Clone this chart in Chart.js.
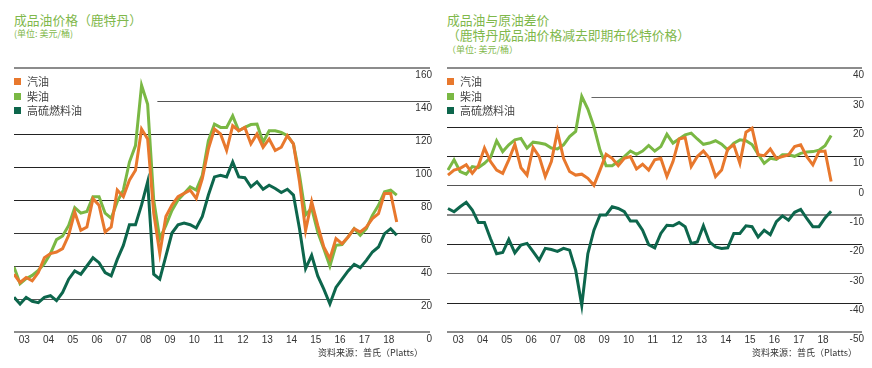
<!DOCTYPE html>
<html>
<head>
<meta charset="utf-8">
<script src="https://cdn.jsdelivr.net/npm/chart.js@4.4.1/dist/chart.umd.min.js"></script>
<style>
  html, body { margin: 0; padding: 0; background: #fff; }
  #page { position: relative; width: 872px; height: 368px; overflow: hidden; font-family: 'Noto Sans CJK SC', sans-serif; }
  .box { position: absolute; top: 0; }
  .title { position: absolute; color: #7fb84b; font-size: 12.8px; line-height: 15px; white-space: nowrap; }
  .unit { position: absolute; color: #7fb84b; font-size: 9px; line-height: 11px; white-space: nowrap; }
  .legend { position: absolute; top: 74px; font-size: 11px; color: #444; line-height: 14.5px; z-index: 2; }
  .legend div { position: relative; padding-left: 13px; white-space: nowrap; }
  .legend span { position: absolute; left: 0; top: 4px; width: 7px; height: 7px; }
  .source { position: absolute; top: 347px; font-size: 9px; line-height: 12px; color: #333; white-space: nowrap; }
</style>
</head>
<body>
<div id="page">
  <div class="title" style="left:14px;top:12px">成品油价格（鹿特丹）</div>
  <div class="unit" style="left:14px;top:28px">(单位: 美元/桶)</div>
  <div class="legend" style="left:14px">
    <div><span style="background:#e8782d"></span>汽油</div>
    <div><span style="background:#7ab844"></span>柴油</div>
    <div><span style="background:#0d664c"></span>高硫燃料油</div>
  </div>
  <canvas id="priceChart" class="box" style="left:0" width="440" height="368"></canvas>
  <div class="source" style="right:449px">资料来源：普氏（Platts）</div>

  <div class="title" style="left:447px;top:12px">成品油与原油差价</div>
  <div class="title" style="left:447px;top:27px">（鹿特丹成品油价格减去即期布伦特价格）</div>
  <div class="unit" style="left:447px;top:44px">（单位: 美元/桶）</div>
  <div class="legend" style="left:447px">
    <div><span style="background:#e8782d"></span>汽油</div>
    <div><span style="background:#7ab844"></span>柴油</div>
    <div><span style="background:#0d664c"></span>高硫燃料油</div>
  </div>
  <canvas id="crackChart" class="box" style="left:440px" width="432" height="368"></canvas>
  <div class="source" style="right:15px">资料来源：普氏（Platts）</div>
</div>

<script>
// quarters 2003Q1 .. 2018Q4 as decimal years
const quarters = [];
for (let i = 0; i < 64; i++) quarters.push(2003 + i / 4);
const yearLabels = ['03', '04', '05', '06', '07', '08', '09', '10', '11', '12', '13', '14', '15', '16', '17', '18'];

// left chart: product prices, USD/bbl
const gasolinePrice = [35, 30, 33, 31, 36, 45, 47.5, 48.5, 50.5, 58.6,
  72.7, 61.6, 63.6, 80.8, 76.8, 60.6, 63.6, 86, 82, 92,
  98, 123, 117, 72, 47.5, 70, 77, 82, 84, 86,
  81, 93, 111, 123, 120, 110, 125, 122, 124, 114,
  120, 112, 117, 110, 112, 119, 114, 91, 61.6, 79,
  64.6, 51.5, 44.4, 56.6, 53.5, 57.6, 62.6, 60.6, 63.6, 68.7,
  71.7, 84, 84, 66.7];
const dieselPrice = [39.4, 29.3, 32.3, 34.3, 37.4, 41.4, 47.5, 56, 58.2, 64.6,
  75.4, 72, 73, 82, 82, 72, 69, 79, 86, 103,
  113, 149.5, 138, 80, 56.6, 64.6, 73.7, 80, 84, 88,
  86, 95, 116, 126, 124, 124, 131, 122, 124, 125.7,
  126, 115, 122, 122, 121, 119, 114, 95, 71, 75,
  60.6, 50.5, 40, 52.5, 53, 57.6, 62.6, 58.6, 62.6, 70.7,
  76.8, 85, 86, 83];
const fuelOilPrice = [21, 17, 21, 18.6, 17.8, 21, 22, 19, 24, 32,
  37, 35, 40, 45, 42, 36, 34, 44, 52.5, 65,
  65, 77, 91, 35, 32, 46, 60, 65, 66, 65,
  63, 70, 83, 94, 95, 94, 103, 94, 93.5, 88,
  91, 86.5, 89, 87, 84.5, 86.5, 83, 62.6, 38.4, 46.5,
  34, 26, 17, 27, 32, 37, 41, 39, 43.4, 48.5,
  51.5, 59.6, 62.6, 58.6];

// right chart: cracks vs dated Brent, USD/bbl
const gasolineCrack = [3.5, 5.2, 5.8, 7, 4.1, 6.7, 12.7, 8.1, 5.2, 4.1,
  8.7, 14, 6, 3.5, 12.9, 9.8, 3, 8.1, 18.4, 9.2,
  4.7, 3.5, 3.8, 2.4, 0, 5.2, 10.6, 9.2, 6.7, 9.2,
  9.8, 5.6, 7.2, 5.2, 8.7, 9.2, 3, 8.1, 15.8, 16.3,
  6.4, 9.8, 11.7, 9.2, 3, 5.2, 12.4, 13.8, 7.5, 18.1,
  19.5, 10.4, 10.1, 12.4, 9.2, 9.8, 10.4, 13.2, 13.8, 9.8,
  7, 11.5, 11.7, 1.3];
const dieselCrack = [5.2, 8.7, 4.7, 3.8, 6.4, 6, 7.5, 9.5, 15.2, 11.5,
  13.8, 15.5, 16, 12.7, 14.7, 14.4, 14, 12.7, 12.4, 13.8,
  16.6, 18.4, 30.3, 26, 20, 12, 6.7, 6.7, 8.1, 9.8,
  11.7, 10.6, 11.7, 13.6, 11.7, 13.2, 17.4, 14.4, 15.8, 17.2,
  17.8, 15.8, 14, 14.4, 15.2, 14, 12.1, 14.4, 15.5, 15.2,
  13.9, 10.6, 7.5, 9.2, 8.8, 10.4, 10.4, 9.9, 10.9, 11.4,
  11.5, 12, 13.5, 17];
const fuelOilCrack = [-7.9, -9, -7.3, -5.8, -8.4, -12.7, -12.7, -18.2, -23.3, -22.9,
  -18.4, -23, -20.4, -19.8, -22.6, -25.5, -21.5, -21.9, -22.5, -21.5,
  -22.1, -29, -40.9, -23.3, -15.3, -10.1, -10.1, -7.3, -7.9, -9,
  -12.2, -12.2, -15.3, -20.2, -21.3, -16.4, -13.6, -13.8, -12.7, -14.1,
  -19.8, -19.3, -13.8, -19.3, -21, -21.5, -21.3, -16.4, -16.4, -13.8,
  -14.1, -17.6, -15.3, -16.8, -12.4, -10.4, -11.9, -9.2, -8.2, -11.3,
  -14.1, -14.1, -11.1, -8.8];

const priceTicks = [0, 20, 40, 60, 80, 100, 120, 140, 160];
const crackTicks = [-50, -40, -30, -20, -10, 0, 10, 20, 30, 40];

const ORANGE = '#e8782d';
const GREEN = '#7ab844';
const DARK = '#0d664c';

Chart.defaults.font.family = "'Liberation Sans Narrow', 'Liberation Sans', Arial, sans-serif";
Chart.defaults.color = '#333';

// horizontal rules drawn under the lines, some start part way across
const ruleLines = {
  id: 'ruleLines',
  beforeDatasetsDraw(chart, args, opts) {
    const { ctx, chartArea, scales: { x, y } } = chart;
    ctx.save();
    opts.lines.forEach(line => {
      const py = Math.round(y.getPixelForValue(line.value)) + (line.width % 2 ? 0.5 : 0);
      const x0 = line.from ? x.getPixelForValue(line.from) : chartArea.left;
      ctx.strokeStyle = line.color;
      ctx.lineWidth = line.width;
      ctx.beginPath();
      ctx.moveTo(x0, py);
      ctx.lineTo(chartArea.right, py);
      ctx.stroke();
    });
    ctx.restore();
  }
};

function series(values) {
  return values.map((v, i) => ({ x: quarters[i], y: v }));
}

function makeChart(canvasId, sets, yTicks, lines, xMin, xMax, padLeft) {
  return new Chart(document.getElementById(canvasId), {
    type: 'line',
    data: {
      datasets: [
        { label: '汽油', data: series(sets[0]), borderColor: ORANGE },
        { label: '柴油', data: series(sets[1]), borderColor: GREEN },
        { label: '高硫燃料油', data: series(sets[2]), borderColor: DARK }
      ]
    },
    options: {
      responsive: false,
      animation: false,
      events: [],
      layout: { padding: { left: padLeft, right: 10, top: 68, bottom: 16 } },
      elements: {
        point: { radius: 0 },
        line: { tension: 0, borderWidth: 3, fill: false }
      },
      plugins: {
        legend: { display: false },
        tooltip: { enabled: false },
        ruleLines: { lines: lines }
      },
      scales: {
        x: {
          type: 'linear',
          min: xMin,
          max: xMax,
          grid: { display: false, drawTicks: false },
          border: { display: false },
          afterBuildTicks: axis => {
            axis.ticks = yearLabels.map((l, k) => ({ value: 2003 + k + 0.42 }));
          },
          afterFit: axis => { axis.height = 20; },
          ticks: {
            autoSkip: false,
            maxRotation: 0,
            padding: 2,
            font: { size: 10 },
            color: '#333',
            callback: (value, index) => yearLabels[index]
          }
        },
        y: {
          position: 'right',
          min: yTicks[0],
          max: yTicks[yTicks.length - 1],
          grid: { display: false, drawTicks: false },
          border: { display: false },
          afterBuildTicks: axis => {
            axis.ticks = yTicks.map(v => ({ value: v }));
          },
          afterFit: axis => { axis.width = 0; },
          ticks: {
            autoSkip: false,
            mirror: true,
            padding: 2,
            labelOffset: 7.5,
            font: { size: 10 },
            color: '#333',
            callback: value => String(value)
          }
        }
      }
    },
    plugins: [ruleLines]
  });
}

const priceLines = [
  { value: 160, color: '#8c8c8c', width: 2 },
  { value: 140, color: '#555', width: 1, from: 2008.9 },
  { value: 120, color: '#222', width: 1 },
  { value: 100, color: '#222', width: 1 },
  { value: 80, color: '#222', width: 1 },
  { value: 60, color: '#333', width: 1 },
  { value: 40, color: '#444', width: 1 },
  { value: 20, color: '#555', width: 1 },
  { value: 0, color: '#8c8c8c', width: 2 }
];
const crackLines = [
  { value: 40, color: '#8c8c8c', width: 2 },
  { value: 30, color: '#666', width: 1, from: 2008.9 },
  { value: 20, color: '#222', width: 1 },
  { value: 10, color: '#222', width: 1 },
  { value: 0, color: '#555', width: 1 },
  { value: -10, color: '#888', width: 2 },
  { value: -20, color: '#222', width: 1 },
  { value: -30, color: '#666', width: 1 },
  { value: -40, color: '#222', width: 1 },
  { value: -50, color: '#8c8c8c', width: 2 }
];

makeChart('priceChart', [gasolinePrice, dieselPrice, fuelOilPrice], priceTicks, priceLines, 2003, 2020.12, 14);
makeChart('crackChart', [gasolineCrack, dieselCrack, fuelOilCrack], crackTicks, crackLines, 2002.96, 2020.02, 7);
</script>
</body>
</html>
